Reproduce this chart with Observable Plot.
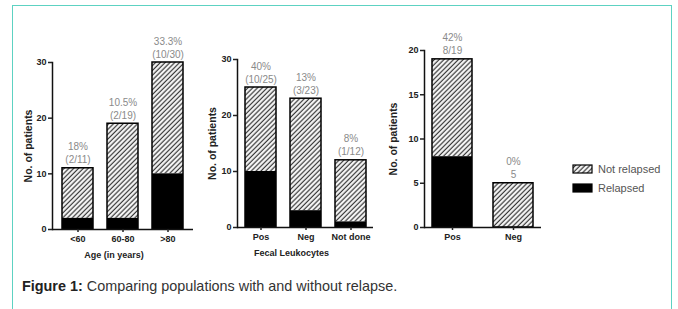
<!DOCTYPE html>
<html><head><meta charset="utf-8">
<script src="https://cdn.jsdelivr.net/npm/d3@7"></script>
<script src="https://cdn.jsdelivr.net/npm/@observablehq/plot@0.6"></script>
<style>
body{margin:0;background:#fff;font-family:"Liberation Sans",Arial,sans-serif;}
#wrap{position:relative;width:678px;height:309px;overflow:hidden;background:#fff;}
#border{position:absolute;left:12px;top:5px;width:660px;height:340px;border:1.5px solid #5dd2c2;box-sizing:border-box;}
.panel{position:absolute;top:0;}
#legend{position:absolute;left:565px;top:155px;}
#caption{position:absolute;left:22px;top:278px;font-size:14.4px;line-height:16px;color:#333;white-space:nowrap;}
</style></head><body>
<svg width="0" height="0" style="position:absolute">
  <defs>
    <pattern id="hatch" patternUnits="userSpaceOnUse" width="3.4" height="3.4" patternTransform="rotate(45)">
      <rect width="3.4" height="3.4" fill="#fff"/>
      <line x1="1.2" y1="0" x2="1.2" y2="3.4" stroke="#3a3a3a" stroke-width="1.3"/>
    </pattern>
  </defs>
</svg>
<div id="wrap">
  <div id="border"></div>
  <div id="caption"><b style="color:#222">Figure 1:</b> Comparing populations with and without relapse.</div>
</div>
<script>
// ---- data ----
const ageCats = ["<60", "60-80", ">80"];
const ageTotal = [11, 19, 30];
const ageRelapsed = [2, 2, 10];
const ageLabels = ["18%\n(2/11)", "10.5%\n(2/19)", "33.3%\n(10/30)"];

const fecalCats = ["Pos", "Neg", "Not done"];
const fecalTotal = [25, 23, 12];
const fecalRelapsed = [10, 3, 1];
const fecalLabels = ["40%\n(10/25)", "13%\n(3/23)", "8%\n(1/12)"];

const thirdCats = ["Pos", "Neg"];
const thirdTotal = [19, 5];
const thirdRelapsed = [8, 0];
const thirdLabels = ["42%\n8/19", "0%\n5"];

const yLabel = "No. of patients";
const xTitles = ["Age (in years)", "Fecal Leukocytes", ""];
const legendLabels = ["Not relapsed", "Relapsed"];

const font = "Liberation Sans, Arial, sans-serif";

function panel(cfg) {
  const data = cfg.cats.map((c, i) => ({cat: c, total: cfg.total[i], rel: cfg.rel[i], label: cfg.labels[i]}));
  const marks = [
    Plot.barY(data, {x: "cat", y1: "rel", y2: "total", fill: "url(#hatch)"}),
    Plot.barY(data, {x: "cat", y1: 0, y2: "rel", fill: "#000"}),
    Plot.barY(data, {x: "cat", y1: 0, y2: "total", fill: "none", stroke: "#000", strokeWidth: 1.5}),
    Plot.text(data, {x: "cat", y: "total", text: "label", lineAnchor: "bottom", dy: -5, fontSize: 10, fill: "#8a8a8a", lineHeight: 1.3}),
    Plot.frame({anchor: "left", stroke: "#111", strokeWidth: 1.5}),
    Plot.ruleY([0], {stroke: "#111", strokeWidth: 1.5}),
    Plot.axisY({ticks: cfg.yTicks, tickSize: 4, tickPadding: 2, fontWeight: "bold", fontSize: 9, color: "#222", strokeWidth: 1.5, label: null}),
    Plot.axisX({tickSize: 3, tickPadding: 3, fontWeight: "bold", fontSize: 9, color: "#222", strokeWidth: 1.5, label: null}),
    Plot.text([yLabel], {frameAnchor: "left", rotate: -90, dx: cfg.yLabelDx, textAnchor: "middle", lineAnchor: "middle", fontWeight: "bold", fontSize: 10.5, fill: "#222"})
  ];
  if (cfg.xTitle) marks.push(Plot.text([cfg.xTitle], {frameAnchor: "bottom", dy: 26, dx: cfg.xTitleDx, textAnchor: "middle", lineAnchor: "middle", fontWeight: "bold", fontSize: 9, fill: "#222"}));
  const svg = Plot.plot({
    width: cfg.width, height: 265,
    marginLeft: 52, marginRight: cfg.mR, marginTop: cfg.mT, marginBottom: cfg.mB,
    style: {background: "transparent", fontFamily: font, overflow: "visible"},
    x: {domain: cfg.cats, paddingInner: cfg.pi, paddingOuter: cfg.po},
    y: {domain: [0, cfg.yMax]},
    marks
  });
  svg.classList.add("panel");
  svg.style.position = "absolute";
  svg.style.left = cfg.left + "px";
  svg.style.top = "0px";
  document.getElementById("wrap").appendChild(svg);
}

panel({cats: ageCats, total: ageTotal, rel: ageRelapsed, labels: ageLabels, yMax: 30, yTicks: [0, 10, 20, 30],
  left: 0, width: 200, mR: 7, mT: 62, mB: 36, pi: 0.315, po: 0.22, yLabelDx: -24, xTitle: xTitles[0], xTitleDx: -9});
panel({cats: fecalCats, total: fecalTotal, rel: fecalRelapsed, labels: fecalLabels, yMax: 30, yTicks: [0, 10, 20, 30],
  left: 185, width: 195, mR: 7, mT: 59, mB: 38, pi: 0.32, po: 0.15, yLabelDx: -25, xTitle: xTitles[1], xTitleDx: -14});
panel({cats: thirdCats, total: thirdTotal, rel: thirdRelapsed, labels: thirdLabels, yMax: 20, yTicks: [0, 5, 10, 15, 20],
  left: 372, width: 174, mR: 5, mT: 50, mB: 38, pi: 0.344, po: 0.13, yLabelDx: -31, xTitle: xTitles[2], xTitleDx: 0});

// legend
const lg = d3.select("#wrap").append("svg").attr("id", "legend").attr("width", 110).attr("height", 50)
  .style("font-family", font);
const fills = ["url(#hatch)", "#000"];
legendLabels.forEach((t, i) => {
  const y = 10 + i * 19;
  lg.append("rect").attr("x", 8).attr("y", y).attr("width", 19).attr("height", 8)
    .attr("fill", fills[i]).attr("stroke", "#000").attr("stroke-width", 1.2);
  lg.append("text").attr("x", 33).attr("y", y + 4).attr("dy", "0.35em")
    .attr("font-size", 11).attr("fill", "#555").text(t);
});
</script>
</body></html>
